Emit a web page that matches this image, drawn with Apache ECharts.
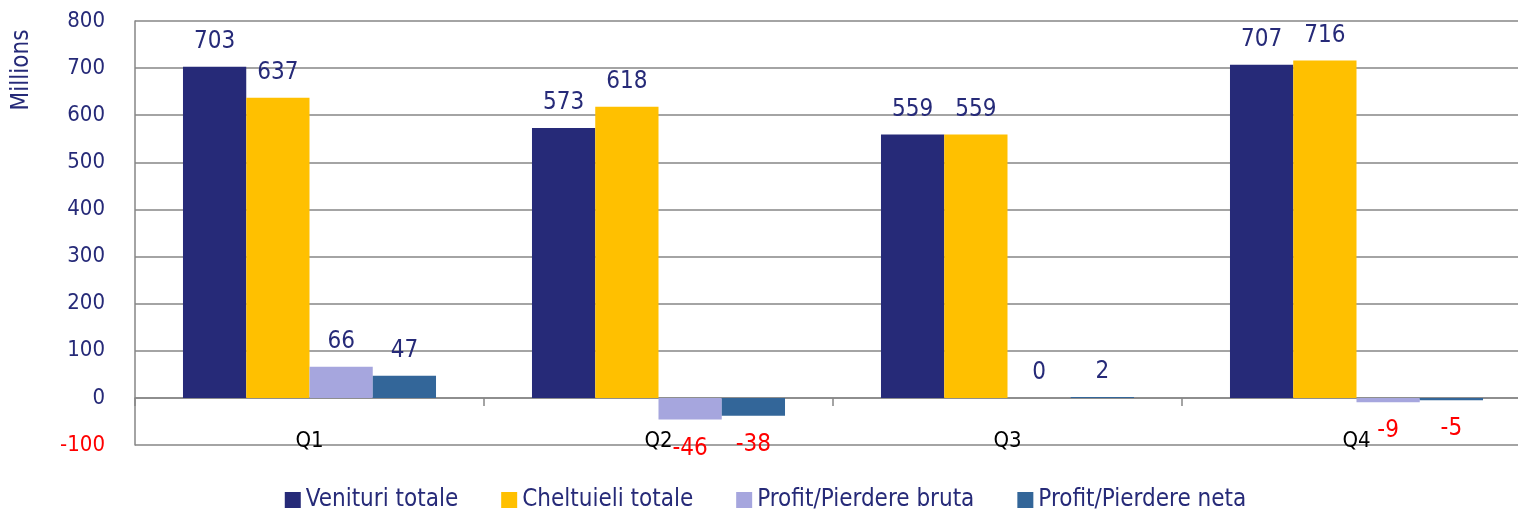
<!DOCTYPE html>
<html>
<head>
<meta charset="utf-8">
<script src="https://cdn.jsdelivr.net/npm/echarts@6/dist/echarts.min.js"></script>
<style>
  html, body { margin: 0; padding: 0; background: #fff; overflow: hidden; }
  /* the plot runs past the right edge of the window, as in the original */
  #main { width: 1531px; height: 517px; }
</style>
</head>
<body>
<div id="main"></div>
<script>
// quarters and values (millions)
const quarters = ['Q1', 'Q2', 'Q3', 'Q4'];
const venituri = [703, 573, 559, 707];
const cheltuieli = [637, 618, 559, 716];
const profitBrut = [66, -46, 0, -9];
const profitNet = [47, -38, 2, -5];
const seriesNames = ['Venituri totale', 'Cheltuieli totale', 'Profit/Pierdere bruta', 'Profit/Pierdere neta'];
const seriesColors = ['#262a78', '#ffc000', '#a6a6de', '#336699'];

const FONT = '"DejaVu Sans Condensed", "DejaVu Sans", sans-serif';
const NAVY = '#262a78';

function toData(values) {
    return values.map(function (v) {
        return {
            value: v,
            label: v < 0
                ? {position: 'bottom', color: '#ff0000', distance: 17}
                : {position: 'top', color: NAVY, distance: 13}
        };
    });
}

function makeSeries(name, values, color) {
    return {
        name: name,
        type: 'bar',
        data: toData(values),
        barGap: 0,
        barCategoryGap: '27.5%',
        itemStyle: {color: color},
        label: {
            show: true,
            fontFamily: FONT,
            fontSize: 24
        }
    };
}

let option = {
    backgroundColor: '#ffffff',
    animation: false,
    grid: {
        left: 135,
        top: 21,
        right: 0,
        height: 424
    },
    legend: {
        bottom: 0,
        left: 'center',
        itemWidth: 16,
        itemHeight: 16,
        itemGap: 43,
        icon: 'rect',
        textStyle: {color: NAVY, fontFamily: FONT, fontSize: 24},
        data: seriesNames
    },
    graphic: [{
        type: 'text',
        x: 22,
        y: 70,
        rotation: Math.PI / 2,
        style: {
            text: 'Millions',
            fill: NAVY,
            font: '24px ' + FONT,
            textAlign: 'center',
            textVerticalAlign: 'middle'
        }
    }],
    xAxis: {
        type: 'category',
        data: quarters,
        axisLine: {onZero: true, lineStyle: {color: '#868686', width: 1.5}},
        axisTick: {show: true, length: 8, lineStyle: {color: '#868686', width: 1.5}},
        axisLabel: {color: '#000', fontFamily: FONT, fontSize: 22, margin: -15}
    },
    yAxis: {
        type: 'value',
        min: -100,
        max: 800,
        interval: 100,
        axisLine: {show: true, lineStyle: {color: '#868686', width: 1.5}},
        axisTick: {show: false},
        splitLine: {lineStyle: {color: '#868686', width: 1.5}},
        axisLabel: {
            fontFamily: FONT,
            fontSize: 22,
            margin: 30,
            color: function (v) { return v < 0 ? '#ff0000' : NAVY; }
        }
    },
    series: [
        makeSeries(seriesNames[0], venituri, seriesColors[0]),
        makeSeries(seriesNames[1], cheltuieli, seriesColors[1]),
        makeSeries(seriesNames[2], profitBrut, seriesColors[2]),
        makeSeries(seriesNames[3], profitNet, seriesColors[3])
    ]
};

let myChart = echarts.init(document.getElementById('main'));
myChart.setOption(option);
</script>
</body>
</html>
